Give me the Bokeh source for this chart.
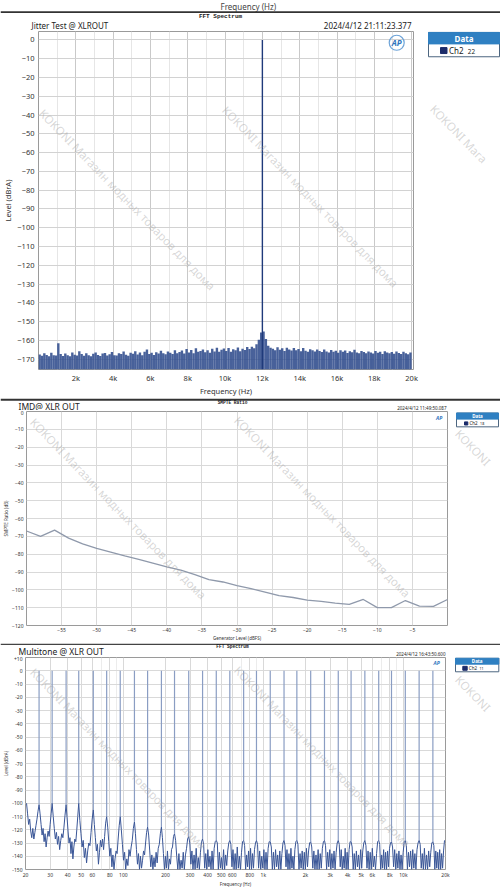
import numpy as np
from bokeh.plotting import figure
from bokeh.layouts import column, row
from bokeh.models import Range1d, FixedTicker, LinearScale
from bokeh.embed import file_html
from bokeh.resources import INLINE
from bokeh.core.properties import value

FONT = "Noto Sans"
MONO = "Liberation Mono"
WATERMARK = "KOKONI Магазин модных товаров для дома"

# ---------------- Chart 1: Jitter test FFT ----------------
jitter_title = "Jitter Test @ XLROUT"
jitter_time = "2024/4/12 21:11:23.377"
jitter_tone_freq = [12000]
jitter_tone_level = [0.0]
jitter_bin_hz = 125
jitter_noise = [
    -167.5, -168.2, -166.9, -167.8, -168.5, -166.6, -167.9, -168.1, -161.5, -167.2,
    -168.3, -167.0, -167.9, -168.4, -166.5, -167.6, -168.0, -165.8, -167.3, -168.2,
    -166.8, -167.9, -168.5, -167.1, -166.4, -167.8, -168.3, -167.0, -166.7, -168.1,
    -167.4, -166.2, -167.9, -168.0, -166.9, -167.3, -165.9, -167.7, -168.2, -166.6,
    -167.1, -165.8, -167.5, -166.4, -167.9, -166.1, -164.9, -167.2, -166.6, -167.8,
    -166.3, -167.0, -165.5, -166.8, -167.4, -165.9, -166.6, -167.2, -165.3, -166.9,
    -166.2, -165.4, -167.0, -164.6, -166.5, -165.1, -166.8, -164.2, -166.0, -165.7,
    -164.8, -166.3, -165.2, -166.6, -164.5, -165.9, -163.9, -166.1, -165.0, -164.3,
    -165.6, -164.1, -166.0, -164.7, -165.3, -163.8, -165.8, -164.4, -165.1, -163.5,
    -164.6, -163.4, -164.2, -162.1, -159.6, -155.8, -155.2, -159.3, -162.8, -163.9,
    -164.5, -165.3, -163.7, -165.0, -164.2, -165.6, -163.9, -164.8, -165.4, -164.0,
    -165.2, -164.6, -165.8, -164.1, -165.5, -166.0, -164.7, -165.3, -165.9, -164.9,
    -165.7, -166.2, -164.8, -165.9, -166.4, -165.1, -166.0, -165.5, -166.6, -165.2,
    -166.1, -165.4, -166.7, -165.8, -166.3, -165.0, -166.5, -166.9, -165.6, -166.2,
    -166.8, -165.9, -166.4, -167.0, -165.7, -166.6, -166.1, -167.2, -165.8, -166.5,
    -166.9, -166.2, -167.1, -165.9, -166.7, -167.3, -166.0, -166.8, -167.4, -166.4,
]
jitter_xticks = [2000, 4000, 6000, 8000, 10000, 12000, 14000, 16000, 18000, 20000]
jitter_xlabels = ["2k", "4k", "6k", "8k", "10k", "12k", "14k", "16k", "18k", "20k"]
jitter_xminor = [1000, 3000, 5000, 7000, 9000, 11000, 13000, 15000, 17000, 19000]
jitter_yticks = [0, -10, -20, -30, -40, -50, -60, -70, -80, -90, -100, -110, -120,
                 -130, -140, -150, -160, -170]
jitter_xrange = (0, 20100)
jitter_yrange = (-175.5, 4.5)

# ---------------- Chart 2: IMD SMPTE ratio ----------------
imd_title = "IMD@ XLR OUT"
imd_time = "2024/4/12 11:49:50.087"
imd_gen_level = [-60, -58, -56, -54, -52, -50, -48, -46, -44, -42, -40, -38, -36, -34,
                 -32, -30, -28, -26, -24, -22, -20, -18, -16, -14, -12, -10, -8, -6,
                 -4, -2, 0]
imd_ratio = [-67.0, -70.0, -66.5, -71.0, -74.2, -76.8, -78.8, -81.0, -82.9, -85.0,
             -87.1, -89.0, -91.5, -94.3, -95.6, -97.6, -99.3, -101.3, -103.3, -104.3,
             -105.8, -106.5, -107.5, -108.2, -105.4, -110.0, -110.0, -106.0, -109.1,
             -109.3, -105.4]
imd_xticks = [-55, -50, -45, -40, -35, -30, -25, -20, -15, -10, -5]
imd_yticks = [0, -10, -20, -30, -40, -50, -60, -70, -80, -90, -100, -110, -120]

# ---------------- Chart 3: Multitone FFT ----------------
mt_title = "Multitone @ XLR OUT"
mt_time = "2024/4/12 16:43:50.600"
mt_tone_freq = [25, 31, 39, 48, 61, 76, 95, 120, 149, 187, 232, 293, 368, 461, 576,
                723, 893, 1120, 1405, 1735, 2178, 2733, 3428, 4233, 5309, 6668, 8228,
                10324, 12961, 16251]
mt_tone_level = [0.0] * 30
mt_skirt_level = [-101, -100, -101, -100, -105, -110, -110, -114, -118, -118, -123,
                  -125, -127, -128, -128, -128, -128, -129, -128, -128, -129, -128,
                  -128, -129, -128, -128, -129, -128, -128, -129]
mt_gap_noise = [
    [-100, -108, -116, -112, -121, -126, -119, -127, -122, -117, -112, -106],
    [-108, -116, -124, -119, -129, -123, -133, -126, -121, -125, -116, -108],
    [-110, -119, -127, -122, -131, -125, -135, -128, -123, -126, -118, -109],
    [-111, -121, -130, -126, -138, -129, -142, -133, -127, -129, -120, -110],
    [-113, -123, -133, -128, -141, -134, -145, -136, -130, -132, -122, -112],
    [-116, -126, -136, -131, -146, -137, -128, -133, -127, -135, -125, -115],
    [-118, -129, -140, -134, -148, -139, -150, -142, -136, -138, -127, -117],
    [-120, -131, -143, -137, -150, -142, -147, -135, -140, -133, -128, -119],
    [-123, -135, -146, -138, -150, -140, -149, -143, -136, -139, -130, -122],
    [-124, -136, -148, -139, -150, -141, -148, -137, -145, -134, -131, -123],
    [-126, -138, -150, -140, -149, -136, -150, -142, -146, -135, -133, -125],
    [-128, -140, -150, -138, -150, -143, -149, -137, -150, -139, -134, -127],
    [-130, -146, -136, -150, -139, -150, -134, -149, -141, -150, -137, -129],
    [-131, -149, -138, -150, -135, -148, -140, -150, -136, -150, -134, -129],
    [-130, -150, -137, -149, -141, -150, -135, -150, -139, -147, -136, -130],
    [-131, -148, -135, -150, -138, -150, -133, -149, -140, -150, -137, -129],
    [-132, -150, -139, -148, -136, -150, -134, -150, -138, -149, -135, -130],
    [-131, -149, -136, -150, -140, -149, -135, -150, -137, -150, -134, -129],
    [-133, -150, -137, -150, -135, -148, -139, -150, -136, -150, -138, -130],
    [-132, -148, -135, -150, -138, -150, -134, -149, -140, -150, -135, -129],
    [-131, -150, -138, -149, -136, -150, -137, -150, -134, -148, -136, -130],
    [-133, -149, -136, -150, -139, -150, -135, -150, -138, -149, -134, -129],
    [-132, -150, -137, -148, -135, -150, -138, -149, -136, -150, -137, -130],
    [-131, -148, -135, -150, -140, -149, -134, -150, -137, -150, -135, -129],
    [-133, -150, -138, -150, -136, -148, -139, -150, -135, -149, -136, -130],
    [-132, -149, -136, -150, -137, -150, -134, -148, -140, -150, -138, -129],
    [-131, -150, -139, -149, -135, -150, -137, -150, -136, -148, -134, -130],
    [-133, -148, -135, -150, -138, -149, -136, -150, -139, -150, -137, -129],
    [-132, -150, -137, -148, -136, -150, -135, -149, -138, -150, -135, -130],
    [-131, -149, -138, -150, -134, -150, -139, -150, -136, -148, -137, -130],
    [-132, -150, -136, -149, -137, -150, -135, -150, -138, -149, -136, -128],
]
mt_xticks = [20, 30, 40, 50, 60, 80, 100, 200, 300, 400, 500, 600, 800, 1000, 2000,
             3000, 4000, 5000, 6000, 8000, 10000, 20000]
mt_xlabels = ["20", "30", "40", "50", "60", "80", "100", "200", "300", "400", "500",
              "600", "800", "1k", "2k", "3k", "4k", "5k", "6k", "8k", "10k", "20k"]
mt_xminor = [70, 90, 700, 900, 7000, 9000]
mt_yticks = [10, 0, -10, -20, -30, -40, -50, -60, -70, -80, -90, -100, -110, -120,
             -130, -140, -150]
mt_ylabels = ["+10", "0", "-10", "-20", "-30", "-40", "-50", "-60", "-70", "-80",
              "-90", "-100", "-110", "-120", "-130", "-140", "-150"]
mt_xrange = (20, 20000)
mt_yrange = (-150, 10)

# watermark anchor points on the page (pixels from top-left)
wm_chart1 = [(33, 113), (220, 110)]
wm_chart2 = [(24, 420), (232, 418)]
wm_chart3 = [(24, 670), (232, 668)]
wm_edge_text = ["KOKONI Мага", "KOKONI", "KOKONI"]
wm_edge_pos = [(432, 112), (457, 432), (457, 678)]

# ---------------- helpers ----------------
def canvas(w, h):
    c = figure(width=w, height=h, x_range=Range1d(0, w), y_range=Range1d(h, 0),
               x_axis_location=None, y_axis_location=None, output_backend="svg",
               toolbar_location=None, min_border=0)
    c.grid.visible = False
    c.outline_line_color = None
    c.background_fill_color = "white"
    c.border_fill_color = "white"
    return c


def put_text(c, x, y, s, size, color="#222222", align="left", font=FONT, style="normal"):
    c.text(x=[x], y=[y], text=[s], text_font=value(font), text_font_size=f"{size}px",
           text_color=color, text_align=align, text_baseline="middle",
           text_font_style=style)


def hline(c, y0, y1, color):
    c.quad(left=[0], right=[c.width], top=[y0], bottom=[y1], fill_color=color,
           line_color=None)


def legend(c, x0, x1, y0, yh, y1, sq, tx, size, ch, num):
    c.quad(left=[x0], right=[x1], top=[y0], bottom=[y1], fill_color="white",
           line_color="#4d6680", line_width=1)
    c.quad(left=[x0], right=[x1], top=[y0], bottom=[yh], fill_color="#2f80c2",
           line_color="#2f80c2")
    put_text(c, (x0 + x1) / 2, (y0 + yh) / 2, "Data", size, color="white",
             align="center", style="bold")
    c.quad(left=[sq[0]], right=[sq[1]], top=[sq[2]], bottom=[sq[3]],
           fill_color="#1c2c6a", line_color="#1c2c6a")
    ry = (sq[2] + sq[3]) / 2
    put_text(c, tx, ry, ch, size)
    put_text(c, tx + size * 2.35, ry + size * 0.1, num, size * 0.8)


def style_axes(p, tick_size, label_size, xstand, ystand):
    for ax in p.axis:
        ax.axis_line_color = None
        ax.major_tick_line_color = None
        ax.minor_tick_line_color = None
        ax.major_tick_out = 0
        ax.major_tick_in = 0
        ax.minor_tick_out = 0
        ax.minor_tick_in = 0
        ax.major_label_text_font = FONT
        ax.major_label_text_font_size = f"{tick_size}px"
        ax.major_label_text_color = "#333333"
        ax.axis_label_text_font = FONT
        ax.axis_label_text_font_size = f"{label_size}px"
        ax.axis_label_text_font_style = "normal"
        ax.axis_label_text_color = "#333333"
        ax.axis_label_standoff = 0
    p.xaxis.major_label_standoff = xstand
    p.yaxis.major_label_standoff = ystand
    p.outline_line_color = "#9a9a9a"
    p.outline_line_width = 1
    p.background_fill_color = "white"
    p.border_fill_color = "white"


def add_page_coords(p, left, right, top, bottom):
    # extra ranges that map page pixels onto the plot frame
    p.extra_x_ranges = {"px": Range1d(left, right)}
    p.extra_y_ranges = {"px": Range1d(bottom, top)}
    p.extra_x_scales = {"px": LinearScale()}
    p.extra_y_scales = {"px": LinearScale()}


def watermark(c, pts, texts, ox=0, oy=0, page=False):
    kw = dict(x_range_name="px", y_range_name="px") if page else {}
    c.text(x=[pt[0] - ox for pt in pts], y=[pt[1] - oy for pt in pts],
           text=texts, angle=-0.80, text_font=value(FONT),
           text_font_size="11.5px", text_color="#a8a8a8", text_alpha=0.45,
           text_align="left", text_baseline="middle", **kw)


# ---------------- Chart 1 ----------------
head1 = canvas(500, 30)
put_text(head1, 220, 5.5, "Frequency (Hz)", 8, color="#444444")
hline(head1, 10.8, 12.6, "#333333")
put_text(head1, 220, 16, "FFT Spectrum", 6, color="#222222", align="center",
         font=MONO, style="bold")
put_text(head1, 31, 25, jitter_title, 8)
put_text(head1, 411, 25, jitter_time, 8, align="right")

p1 = figure(width=420, height=368, x_range=Range1d(*jitter_xrange),
            y_range=Range1d(*jitter_yrange), output_backend="svg",
            toolbar_location=None, min_border_left=30, min_border_right=7,
            min_border_top=1, min_border_bottom=19)
p1.xaxis.ticker = FixedTicker(ticks=jitter_xticks, minor_ticks=jitter_xminor)
p1.xaxis.major_label_overrides = {t: l for t, l in zip(jitter_xticks, jitter_xlabels)}
p1.yaxis.ticker = FixedTicker(ticks=jitter_yticks)
p1.xaxis.axis_label = "Frequency (Hz)"
p1.yaxis.axis_label = "Level (dBrA)"
style_axes(p1, 7.5, 7.5, 3, 4)
p1.yaxis.axis_label_standoff = 1
p1.xgrid.grid_line_color = "#c9c9c9"
p1.xgrid.minor_grid_line_color = "#e6e6e6"
p1.ygrid.grid_line_color = "#d2d2d2"
add_page_coords(p1, 30, 413, 31, 379)

jit_x = [jitter_bin_hz * (i + 0.5) for i in range(len(jitter_noise))]
p1.segment(x0=jit_x, y0=[jitter_yrange[0]] * len(jit_x), x1=jit_x, y1=jitter_noise,
           line_color="#34508f", line_width=2.4, line_alpha=0.9)
p1.segment(x0=jitter_tone_freq, y0=[jitter_yrange[0]] * len(jitter_tone_freq),
           x1=jitter_tone_freq, y1=jitter_tone_level, line_color="#1f3a7a",
           line_width=1.4)
p1.scatter(x=[19200], y=[-1.5], marker="circle", size=15, fill_color=None,
           line_color="#6fa4d8", line_width=1.2)
p1.text(x=[19200], y=[-1.5], text=["AP"], text_font=value(FONT), text_font_size="8px",
        text_font_style="bold italic", text_color="#2e74bd", text_align="center",
        text_baseline="middle")
watermark(p1, wm_chart1, [WATERMARK] * len(wm_chart1), page=True)

leg1 = canvas(80, 368)
watermark(leg1, wm_edge_pos[:1], wm_edge_text[:1], ox=420, oy=30)
legend(leg1, 8, 79, 1, 13.5, 27.5, (20, 26.5, 17.5, 24), 28.5, 8, "Ch2", "22")

# ---------------- Chart 2 ----------------
head2 = canvas(500, 12)
hline(head2, 0, 2.2, "#333333")
put_text(head2, 232, 3.6, "SMPTE Ratio", 4.5, align="center", font=MONO, style="bold")
put_text(head2, 18, 7.5, imd_title, 8.5)
put_text(head2, 446, 9.7, imd_time, 4.5, align="right")

p2 = figure(width=452, height=233, x_range=Range1d(-60, 0), y_range=Range1d(-120, 0),
            output_backend="svg", toolbar_location=None, min_border_left=18,
            min_border_right=5, min_border_top=1, min_border_bottom=11)
p2.xaxis.ticker = FixedTicker(ticks=imd_xticks)
p2.yaxis.ticker = FixedTicker(ticks=imd_yticks)
p2.xaxis.axis_label = "Generator Level (dBFS)"
p2.yaxis.axis_label = "SMPTE Ratio (dB)"
style_axes(p2, 5, 4.5, 2, 3)
p2.xgrid.grid_line_color = "#d9d9d9"
p2.ygrid.grid_line_color = "#d9d9d9"
add_page_coords(p2, 18, 447, 411, 632)
p2.line(x=imd_gen_level, y=imd_ratio, line_color="#8f99ab", line_width=1.3)
p2.text(x=[-1.2], y=[-3.4], text=["AP"], text_font=value(FONT), text_font_size="5px",
        text_font_style="bold italic", text_color="#2e74bd", text_align="center",
        text_baseline="middle")
watermark(p2, wm_chart2, [WATERMARK] * len(wm_chart2), page=True)

leg2 = canvas(48, 233)
watermark(leg2, wm_edge_pos[1:2], wm_edge_text[1:2], ox=452, oy=410)
legend(leg2, 4, 46, 1.7, 8.3, 16.7, (12, 15.3, 11.3, 14.7), 17, 4.5, "Ch2", "18")

# ---------------- Chart 3 ----------------
head3 = canvas(500, 13)
hline(head3, 0, 1.4, "#444444")
put_text(head3, 232, 3.4, "FFT Spectrum", 4.5, align="center", font=MONO, style="bold")
put_text(head3, 18, 8.3, mt_title, 8.5)
put_text(head3, 445, 10, mt_time, 4.5, align="right")

p3 = figure(width=450, height=233, x_axis_type="log", x_range=Range1d(*mt_xrange),
            y_range=Range1d(*mt_yrange), output_backend="svg", toolbar_location=None,
            min_border_left=17, min_border_right=5, min_border_top=1,
            min_border_bottom=12)
p3.xaxis.ticker = FixedTicker(ticks=mt_xticks, minor_ticks=mt_xminor)
p3.xaxis.major_label_overrides = {t: l for t, l in zip(mt_xticks, mt_xlabels)}
p3.yaxis.ticker = FixedTicker(ticks=mt_yticks)
p3.yaxis.major_label_overrides = {t: l for t, l in zip(mt_yticks, mt_ylabels)}
p3.xaxis.axis_label = "Frequency (Hz)"
p3.yaxis.axis_label = "Level (dBrA)"
style_axes(p3, 5, 4.5, 2, 3)
p3.xgrid.grid_line_color = "#d9d9d9"
p3.xgrid.minor_grid_line_color = "#ececec"
p3.ygrid.grid_line_color = "#d9d9d9"
add_page_coords(p3, 17, 445, 657, 877)

edges = [mt_xrange[0]] + mt_tone_freq + [mt_xrange[1]]
mt_x, mt_y = [], []
for gi, vals in enumerate(mt_gap_noise):
    pos = np.logspace(np.log10(edges[gi]), np.log10(edges[gi + 1]), len(vals) + 2)[1:-1]
    mt_x.extend(pos.tolist())
    mt_y.extend(vals)
    if gi < len(mt_tone_freq):
        mt_x.append(mt_tone_freq[gi])
        mt_y.append(mt_skirt_level[gi])
p3.line(x=mt_x, y=mt_y, line_color="#3a5697", line_width=1.0)
p3.segment(x0=mt_tone_freq, y0=mt_skirt_level, x1=mt_tone_freq, y1=mt_tone_level,
           line_color="#8a9dc3", line_width=1.2)
p3.text(x=[17300], y=[6.1], text=["AP"], text_font=value(FONT), text_font_size="5px",
        text_font_style="bold italic", text_color="#2e74bd", text_align="center",
        text_baseline="middle")
watermark(p3, wm_chart3, [WATERMARK] * len(wm_chart3), page=True)

leg3 = canvas(50, 233)
watermark(leg3, wm_edge_pos[2:], wm_edge_text[2:], ox=450, oy=656)
legend(leg3, 5, 48.3, 0.7, 7.3, 15.7, (12.3, 16.7, 9.7, 14), 18.3, 4.5, "Ch2", "11")

layout = column(head1, row(p1, leg1), head2, row(p2, leg2), head3, row(p3, leg3))
open("out.html", "w").write(file_html(layout, INLINE))
